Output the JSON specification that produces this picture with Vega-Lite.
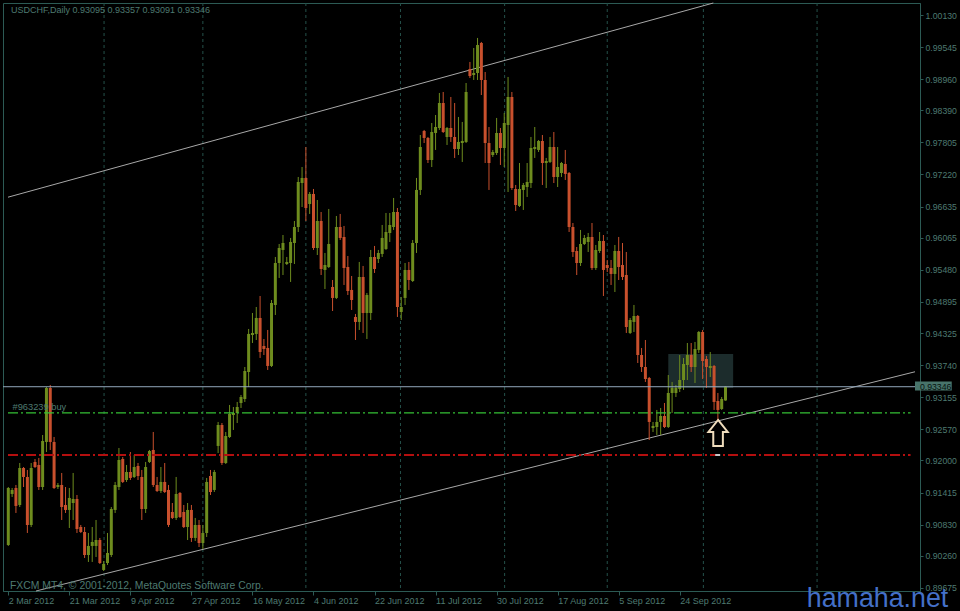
{
"$schema": "https://vega.github.io/schema/vega-lite/v6.json",
"width": 917, "height": 588,
"autosize": {"type": "none"},
"padding": {"left": 3, "top": 3, "right": 40, "bottom": 20},
"background": "#000000",
"config": {
 "view": {"stroke": "#2c5a54", "strokeWidth": 1},
 "axis": {"labelFont": "Liberation Sans", "grid": false, "domainColor": "#2c5a54", "tickColor": "#2c5a54", "labelColor": "#4e7a70", "labelFlush": false, "labelOverlap": false, "labelBound": false}
},
"datasets": {
 "bars": [
{"i":0,"o":0.90458,"h":0.91516,"l":0.90440,"c":0.91498},
{"i":1,"o":0.91389,"h":0.91498,"l":0.91334,"c":0.91461},
{"i":2,"o":0.91498,"h":0.91553,"l":0.91042,"c":0.91170},
{"i":3,"o":0.91188,"h":0.91954,"l":0.91151,"c":0.91863},
{"i":4,"o":0.91863,"h":0.91881,"l":0.91516,"c":0.91699},
{"i":5,"o":0.91699,"h":0.91827,"l":0.90677,"c":0.90823},
{"i":6,"o":0.90823,"h":0.91954,"l":0.90786,"c":0.91863},
{"i":7,"o":0.91973,"h":0.92027,"l":0.91863,"c":0.91881},
{"i":8,"o":0.91918,"h":0.92046,"l":0.91462,"c":0.91516},
{"i":9,"o":0.91516,"h":0.92465,"l":0.91462,"c":0.92356},
{"i":10,"o":0.92338,"h":0.93341,"l":0.92155,"c":0.93323},
{"i":11,"o":0.93323,"h":0.93378,"l":0.92192,"c":0.92338},
{"i":12,"o":0.92338,"h":0.92429,"l":0.91480,"c":0.91498},
{"i":13,"o":0.91516,"h":0.91589,"l":0.91480,"c":0.91553},
{"i":14,"o":0.91553,"h":0.91772,"l":0.90914,"c":0.91151},
{"i":15,"o":0.91188,"h":0.91516,"l":0.91042,"c":0.91097},
{"i":16,"o":0.91097,"h":0.91498,"l":0.90768,"c":0.91316},
{"i":17,"o":0.91224,"h":0.91772,"l":0.90914,"c":0.91297},
{"i":18,"o":0.91297,"h":0.91370,"l":0.90677,"c":0.90750},
{"i":19,"o":0.90786,"h":0.90823,"l":0.90677,"c":0.90695},
{"i":20,"o":0.90695,"h":0.90786,"l":0.90221,"c":0.90275},
{"i":21,"o":0.90275,"h":0.90677,"l":0.90148,"c":0.90440},
{"i":22,"o":0.90440,"h":0.90786,"l":0.90148,"c":0.90513},
{"i":23,"o":0.90440,"h":0.90914,"l":0.90239,"c":0.90549},
{"i":24,"o":0.90549,"h":0.90586,"l":0.90111,"c":0.90129},
{"i":25,"o":0.90002,"h":0.90166,"l":0.89983,"c":0.90111},
{"i":26,"o":0.90129,"h":0.90677,"l":0.90093,"c":0.90312},
{"i":27,"o":0.90275,"h":0.91151,"l":0.90239,"c":0.91115},
{"i":28,"o":0.91097,"h":0.91608,"l":0.91042,"c":0.91553},
{"i":29,"o":0.91516,"h":0.92228,"l":0.91462,"c":0.92009},
{"i":30,"o":0.92027,"h":0.92064,"l":0.91589,"c":0.91608},
{"i":31,"o":0.91644,"h":0.91918,"l":0.91608,"c":0.91790},
{"i":32,"o":0.91790,"h":0.92155,"l":0.91644,"c":0.91681},
{"i":33,"o":0.91699,"h":0.92100,"l":0.91681,"c":0.91881},
{"i":34,"o":0.91900,"h":0.91954,"l":0.91644,"c":0.91717},
{"i":35,"o":0.91699,"h":0.91827,"l":0.90914,"c":0.91115},
{"i":36,"o":0.91115,"h":0.91973,"l":0.91042,"c":0.91881},
{"i":37,"o":0.91973,"h":0.92192,"l":0.91954,"c":0.92173},
{"i":38,"o":0.92192,"h":0.92520,"l":0.91516,"c":0.91553},
{"i":39,"o":0.91553,"h":0.91699,"l":0.91425,"c":0.91443},
{"i":40,"o":0.91443,"h":0.91881,"l":0.91407,"c":0.91608},
{"i":41,"o":0.91608,"h":0.91954,"l":0.91407,"c":0.91425},
{"i":42,"o":0.91462,"h":0.91553,"l":0.90786,"c":0.90823},
{"i":43,"o":0.91060,"h":0.91224,"l":0.90932,"c":0.90951},
{"i":44,"o":0.90951,"h":0.91699,"l":0.90914,"c":0.91389},
{"i":45,"o":0.91407,"h":0.91425,"l":0.90951,"c":0.90969},
{"i":46,"o":0.91060,"h":0.91188,"l":0.90768,"c":0.90786},
{"i":47,"o":0.90786,"h":0.91224,"l":0.90549,"c":0.91097},
{"i":48,"o":0.91097,"h":0.91188,"l":0.90513,"c":0.90586},
{"i":49,"o":0.90586,"h":0.90951,"l":0.90531,"c":0.90823},
{"i":50,"o":0.90823,"h":0.90914,"l":0.90421,"c":0.90494},
{"i":51,"o":0.90494,"h":0.90823,"l":0.90385,"c":0.90677},
{"i":52,"o":0.90677,"h":0.91681,"l":0.90604,"c":0.91608},
{"i":53,"o":0.91717,"h":0.91827,"l":0.91370,"c":0.91425},
{"i":54,"o":0.91462,"h":0.91827,"l":0.91425,"c":0.91790},
{"i":55,"o":0.92265,"h":0.92703,"l":0.92137,"c":0.92648},
{"i":56,"o":0.92648,"h":0.92684,"l":0.91918,"c":0.91954},
{"i":57,"o":0.91954,"h":0.92520,"l":0.91936,"c":0.92447},
{"i":58,"o":0.92429,"h":0.93013,"l":0.92411,"c":0.92849},
{"i":59,"o":0.92830,"h":0.92976,"l":0.92557,"c":0.92867},
{"i":60,"o":0.92867,"h":0.93068,"l":0.92684,"c":0.92976},
{"i":61,"o":0.93049,"h":0.93195,"l":0.92958,"c":0.93159},
{"i":62,"o":0.93122,"h":0.93706,"l":0.93068,"c":0.93633},
{"i":63,"o":0.93615,"h":0.94400,"l":0.93341,"c":0.94309},
{"i":64,"o":0.94290,"h":0.94692,"l":0.94144,"c":0.94327},
{"i":65,"o":0.94309,"h":0.94801,"l":0.94199,"c":0.94601},
{"i":66,"o":0.94601,"h":0.95002,"l":0.93871,"c":0.93980},
{"i":67,"o":0.94090,"h":0.94217,"l":0.93925,"c":0.94035},
{"i":68,"o":0.94053,"h":0.94382,"l":0.93652,"c":0.93725},
{"i":69,"o":0.93725,"h":0.94929,"l":0.93706,"c":0.94874},
{"i":70,"o":0.94838,"h":0.95714,"l":0.94655,"c":0.95604},
{"i":71,"o":0.95604,"h":0.95951,"l":0.95331,"c":0.95878},
{"i":72,"o":0.95842,"h":0.96115,"l":0.95385,"c":0.95969},
{"i":73,"o":0.95586,"h":0.95714,"l":0.95568,"c":0.95623},
{"i":74,"o":0.95604,"h":0.96061,"l":0.95258,"c":0.95988},
{"i":75,"o":0.95969,"h":0.96371,"l":0.95586,"c":0.96261},
{"i":76,"o":0.96261,"h":0.97174,"l":0.96170,"c":0.97083},
{"i":77,"o":0.97064,"h":0.97356,"l":0.96626,"c":0.97156},
{"i":78,"o":0.97156,"h":0.97721,"l":0.96371,"c":0.96608},
{"i":79,"o":0.96681,"h":0.96900,"l":0.96499,"c":0.96864},
{"i":80,"o":0.96864,"h":0.96955,"l":0.95842,"c":0.95878},
{"i":81,"o":0.95878,"h":0.96754,"l":0.95750,"c":0.96371},
{"i":82,"o":0.96371,"h":0.96535,"l":0.95385,"c":0.95495},
{"i":83,"o":0.95477,"h":0.95787,"l":0.95130,"c":0.95568},
{"i":84,"o":0.95531,"h":0.96590,"l":0.95513,"c":0.95951},
{"i":85,"o":0.95166,"h":0.95294,"l":0.94728,"c":0.94966},
{"i":86,"o":0.94966,"h":0.96462,"l":0.94947,"c":0.96261},
{"i":87,"o":0.96261,"h":0.96499,"l":0.96024,"c":0.96061},
{"i":88,"o":0.96079,"h":0.96280,"l":0.95203,"c":0.95513},
{"i":89,"o":0.95531,"h":0.95732,"l":0.95020,"c":0.95093},
{"i":90,"o":0.95112,"h":0.95367,"l":0.94747,"c":0.94929},
{"i":91,"o":0.94619,"h":0.94674,"l":0.94199,"c":0.94528},
{"i":92,"o":0.94528,"h":0.95623,"l":0.94382,"c":0.95349},
{"i":93,"o":0.95349,"h":0.95550,"l":0.94327,"c":0.94692},
{"i":94,"o":0.94692,"h":0.95057,"l":0.94217,"c":0.95020},
{"i":95,"o":0.94692,"h":0.95842,"l":0.94564,"c":0.95714},
{"i":96,"o":0.95714,"h":0.95915,"l":0.95422,"c":0.95495},
{"i":97,"o":0.95677,"h":0.95842,"l":0.95604,"c":0.95787},
{"i":98,"o":0.95769,"h":0.96298,"l":0.95714,"c":0.96061},
{"i":99,"o":0.95860,"h":0.96517,"l":0.95842,"c":0.96170},
{"i":100,"o":0.96152,"h":0.96517,"l":0.95988,"c":0.96298},
{"i":101,"o":0.96261,"h":0.96791,"l":0.96207,"c":0.96535},
{"i":102,"o":0.96535,"h":0.96608,"l":0.94619,"c":0.94801},
{"i":103,"o":0.94710,"h":0.94984,"l":0.94564,"c":0.94801},
{"i":104,"o":0.94966,"h":0.95604,"l":0.94838,"c":0.95477},
{"i":105,"o":0.95477,"h":0.95623,"l":0.95112,"c":0.95294},
{"i":106,"o":0.95276,"h":0.96024,"l":0.95258,"c":0.95969},
{"i":107,"o":0.95969,"h":0.97156,"l":0.95787,"c":0.96937},
{"i":108,"o":0.96937,"h":0.97940,"l":0.96845,"c":0.97721},
{"i":109,"o":0.98013,"h":0.98032,"l":0.97794,"c":0.97886},
{"i":110,"o":0.97886,"h":0.97904,"l":0.97429,"c":0.97484},
{"i":111,"o":0.97484,"h":0.98159,"l":0.97356,"c":0.97995},
{"i":112,"o":0.97977,"h":0.98305,"l":0.97667,"c":0.98086},
{"i":113,"o":0.98068,"h":0.98707,"l":0.98032,"c":0.98524},
{"i":114,"o":0.98524,"h":0.98725,"l":0.97977,"c":0.97995},
{"i":115,"o":0.97904,"h":0.98086,"l":0.97758,"c":0.98068},
{"i":116,"o":0.98068,"h":0.98634,"l":0.97813,"c":0.97904},
{"i":117,"o":0.97904,"h":0.98524,"l":0.97521,"c":0.97685},
{"i":118,"o":0.97685,"h":0.98269,"l":0.97575,"c":0.97813},
{"i":119,"o":0.97794,"h":0.98178,"l":0.97448,"c":0.97831},
{"i":120,"o":0.97813,"h":0.98889,"l":0.97794,"c":0.98725},
{"i":121,"o":0.99145,"h":0.99273,"l":0.98981,"c":0.99017},
{"i":122,"o":0.99035,"h":0.99528,"l":0.98944,"c":0.99072},
{"i":123,"o":0.99072,"h":0.99711,"l":0.98944,"c":0.99583},
{"i":124,"o":0.99619,"h":0.99638,"l":0.98670,"c":0.98944},
{"i":125,"o":0.98944,"h":0.99090,"l":0.97429,"c":0.97794},
{"i":126,"o":0.97794,"h":0.98086,"l":0.96937,"c":0.97429},
{"i":127,"o":0.97575,"h":0.97667,"l":0.97539,"c":0.97630},
{"i":128,"o":0.97612,"h":0.98251,"l":0.97575,"c":0.97977},
{"i":129,"o":0.97977,"h":0.98068,"l":0.97393,"c":0.97703},
{"i":130,"o":0.97703,"h":0.98342,"l":0.97356,"c":0.98159},
{"i":131,"o":0.98123,"h":0.98999,"l":0.96900,"c":0.98634},
{"i":132,"o":0.98634,"h":0.98725,"l":0.96937,"c":0.96973},
{"i":133,"o":0.96955,"h":0.97028,"l":0.96553,"c":0.96663},
{"i":134,"o":0.96645,"h":0.97429,"l":0.96626,"c":0.96955},
{"i":135,"o":0.96937,"h":0.97064,"l":0.96572,"c":0.97028},
{"i":136,"o":0.96991,"h":0.97429,"l":0.96809,"c":0.97083},
{"i":137,"o":0.97064,"h":0.97904,"l":0.96973,"c":0.97703},
{"i":138,"o":0.97685,"h":0.98086,"l":0.97521,"c":0.97721},
{"i":139,"o":0.97667,"h":0.97849,"l":0.97630,"c":0.97831},
{"i":140,"o":0.97831,"h":0.97940,"l":0.97028,"c":0.97429},
{"i":141,"o":0.97429,"h":0.97521,"l":0.96973,"c":0.97466},
{"i":142,"o":0.97448,"h":0.97904,"l":0.97429,"c":0.97721},
{"i":143,"o":0.97721,"h":0.97995,"l":0.97064,"c":0.97174},
{"i":144,"o":0.97174,"h":0.97721,"l":0.96991,"c":0.97356},
{"i":145,"o":0.97247,"h":0.97448,"l":0.97174,"c":0.97429},
{"i":146,"o":0.97411,"h":0.97667,"l":0.97119,"c":0.97229},
{"i":147,"o":0.97247,"h":0.97265,"l":0.96170,"c":0.96261},
{"i":148,"o":0.96261,"h":0.96334,"l":0.95714,"c":0.95805},
{"i":149,"o":0.95823,"h":0.95896,"l":0.95385,"c":0.95604},
{"i":150,"o":0.95604,"h":0.96207,"l":0.95550,"c":0.95951},
{"i":151,"o":0.95951,"h":0.96115,"l":0.95933,"c":0.96061},
{"i":152,"o":0.95988,"h":0.96152,"l":0.95805,"c":0.96079},
{"i":153,"o":0.96079,"h":0.96334,"l":0.95477,"c":0.95513},
{"i":154,"o":0.95513,"h":0.95933,"l":0.95477,"c":0.95842},
{"i":155,"o":0.95823,"h":0.96170,"l":0.95787,"c":0.96006},
{"i":156,"o":0.96006,"h":0.96115,"l":0.95002,"c":0.95477},
{"i":157,"o":0.95568,"h":0.95659,"l":0.95440,"c":0.95513},
{"i":158,"o":0.95513,"h":0.95659,"l":0.95203,"c":0.95404},
{"i":159,"o":0.95404,"h":0.95933,"l":0.95075,"c":0.95823},
{"i":160,"o":0.95823,"h":0.96079,"l":0.95294,"c":0.95531},
{"i":161,"o":0.95568,"h":0.95969,"l":0.95294,"c":0.95349},
{"i":162,"o":0.95385,"h":0.95805,"l":0.94327,"c":0.94436},
{"i":163,"o":0.94327,"h":0.94601,"l":0.94309,"c":0.94564},
{"i":164,"o":0.94528,"h":0.94838,"l":0.94345,"c":0.94637},
{"i":165,"o":0.94637,"h":0.94655,"l":0.93779,"c":0.93925},
{"i":166,"o":0.93925,"h":0.94053,"l":0.93615,"c":0.93706},
{"i":167,"o":0.93706,"h":0.94199,"l":0.93433,"c":0.93487},
{"i":168,"o":0.93506,"h":0.93524,"l":0.92374,"c":0.92703},
{"i":169,"o":0.92593,"h":0.92703,"l":0.92520,"c":0.92630},
{"i":170,"o":0.92611,"h":0.92922,"l":0.92465,"c":0.92703},
{"i":171,"o":0.92703,"h":0.92958,"l":0.92465,"c":0.92812},
{"i":172,"o":0.92812,"h":0.93049,"l":0.92593,"c":0.92611},
{"i":173,"o":0.92611,"h":0.93560,"l":0.92593,"c":0.93232},
{"i":174,"o":0.93232,"h":0.93433,"l":0.92867,"c":0.93323},
{"i":175,"o":0.93232,"h":0.93378,"l":0.93159,"c":0.93323},
{"i":176,"o":0.93305,"h":0.93925,"l":0.93250,"c":0.93469},
{"i":177,"o":0.93469,"h":0.93871,"l":0.93287,"c":0.93761},
{"i":178,"o":0.93743,"h":0.94144,"l":0.93469,"c":0.93925},
{"i":179,"o":0.93925,"h":0.94144,"l":0.93615,"c":0.93706},
{"i":180,"o":0.93706,"h":0.94163,"l":0.93414,"c":0.94035},
{"i":181,"o":0.94017,"h":0.94363,"l":0.93962,"c":0.94345},
{"i":182,"o":0.94345,"h":0.94382,"l":0.93487,"c":0.93816},
{"i":183,"o":0.93852,"h":0.93907,"l":0.93323,"c":0.93706},
{"i":184,"o":0.93688,"h":0.93980,"l":0.93524,"c":0.93725},
{"i":185,"o":0.93725,"h":0.93743,"l":0.92922,"c":0.93068},
{"i":186,"o":0.93086,"h":0.93232,"l":0.92703,"c":0.92922},
{"i":187,"o":0.92940,"h":0.93159,"l":0.92922,"c":0.93122},
{"i":188,"o":0.93095,"h":0.93357,"l":0.93091,"c":0.93346}
 ],
 "grid": [{"i":25.1},{"i":51},{"i":78},{"i":102.8},{"i":130.1},{"i":157},{"i":182.2},{"i":212}],
 "channel": [
  {"line":"upper","i":-0.078,"p":0.96805},{"line":"upper","i":184.8,"p":1.00349},
  {"line":"lower","i":7.26,"p":0.89618},{"line":"lower","i":237.67,"p":0.93619}
 ]
},
"layer": [
 {"data": {"values": [{}]}, "mark": {"type": "rect", "color": "#1c2c2c"},
  "encoding": {
   "x": {"datum": 173, "type": "quantitative", "scale": {"domain": [-0.078, 237.67], "nice": false, "zero": false},
    "axis": {"title": null, "orient": "bottom", "values": [0,16,32,48,64,80,96,112,128,144,160,176],
     "labelExpr": "['2 Mar 2012','21 Mar 2012','9 Apr 2012','27 Apr 2012','16 May 2012','4 Jun 2012','22 Jun 2012','11 Jul 2012','30 Jul 2012','17 Aug 2012','5 Sep 2012','24 Sep 2012'][round(datum.value/16)]",
     "labelAlign": "left", "labelBaseline": "top", "tickSize": 4, "labelPadding": 1, "labelFontSize": 9, "labelOverlap": false, "labelSeparation": 0}},
   "x2": {"datum": 190},
   "y": {"datum": 0.93943, "type": "quantitative", "scale": {"domain": [0.89618, 1.00349], "nice": false, "zero": false},
    "axis": {"title": null, "orient": "right", "values": [1.0013,0.99545,0.9896,0.9839,0.97805,0.9722,0.96635,0.96065,0.9548,0.94895,0.94325,0.9374,0.93155,0.9257,0.92,0.91415,0.9083,0.9026,0.89675],
     "format": ".5f", "labelAlign": "left", "labelBaseline": "middle", "tickSize": 3, "labelPadding": 2, "labelFontSize": 8.7, "labelOverlap": false, "labelSeparation": 0, "tickCount": 19}},
   "y2": {"datum": 0.93323}}},
 {"data": {"name": "grid"}, "mark": {"type": "rule", "color": "#24504a", "strokeWidth": 1, "strokeDash": [3, 3]},
  "encoding": {"x": {"field": "i", "type": "quantitative"}}},
 {"data": {"name": "channel"}, "mark": {"type": "line", "color": "#a8a8a8", "strokeWidth": 1},
  "encoding": {
   "x": {"field": "i", "type": "quantitative"},
   "y": {"field": "p", "type": "quantitative"},
   "detail": {"field": "line", "type": "nominal"}}},
 {"data": {"name": "bars"}, "mark": {"type": "rule", "strokeWidth": 1},
  "encoding": {
   "x": {"field": "i", "type": "quantitative"},
   "y": {"field": "h", "type": "quantitative"},
   "y2": {"field": "l"},
   "color": {"condition": {"test": "datum.c >= datum.o", "value": "#6e8c1e"}, "value": "#c8502d"}}},
 {"data": {"name": "bars"}, "mark": {"type": "bar", "width": 3},
  "encoding": {
   "x": {"field": "i", "type": "quantitative"},
   "y": {"field": "o", "type": "quantitative"},
   "y2": {"field": "c"},
   "color": {"condition": {"test": "datum.c >= datum.o", "value": "#6e8c1e"}, "value": "#c8502d"}}},
 {"data": {"values": [{}]}, "mark": {"type": "rule", "color": "#93a7bb", "strokeWidth": 1},
  "encoding": {"y": {"datum": 0.93346, "type": "quantitative"}}},
 {"data": {"values": [{}]}, "mark": {"type": "rule", "color": "#35c035", "strokeWidth": 1.3, "strokeDash": [10, 3, 2, 3]},
  "encoding": {
   "x": {"datum": -0.078, "type": "quantitative"},
   "x2": {"datum": 236.5},
   "y": {"datum": 0.92867, "type": "quantitative"}}},
 {"data": {"values": [{}]}, "mark": {"type": "rule", "color": "#b40f0f", "strokeWidth": 2, "strokeDash": [10, 3, 2, 3]},
  "encoding": {
   "x": {"datum": -0.078, "type": "quantitative"},
   "x2": {"datum": 236.5},
   "y": {"datum": 0.921, "type": "quantitative"}}},
 {"data": {"values": [{}]}, "mark": {"type": "rule", "color": "#c8c8c8", "strokeWidth": 2},
  "encoding": {
   "x": {"datum": 185.3, "type": "quantitative"},
   "x2": {"datum": 186.6},
   "y": {"datum": 0.921, "type": "quantitative"}}},
 {"data": {"values": [{}]}, "mark": {"type": "point", "shape": "M0,-1L0.74,-0.08L0.37,-0.08L0.37,1L-0.37,1L-0.37,-0.08L-0.74,-0.08Z", "size": 676, "filled": true, "fill": "#000000", "stroke": "#efdcbc", "strokeWidth": 2, "opacity": 1, "fillOpacity": 1, "strokeOpacity": 1},
  "encoding": {
   "x": {"datum": 186.05, "type": "quantitative"},
   "y": {"datum": 0.92502, "type": "quantitative"}}},
 {"data": {"values": [{}]}, "mark": {"type": "text", "text": "USDCHF,Daily  0.93095 0.93357 0.93091 0.93346", "align": "left", "baseline": "middle", "font": "Liberation Sans", "fontSize": 9, "color": "#4e7a70"},
  "encoding": {
   "x": {"datum": 0.7, "type": "quantitative"},
   "y": {"datum": 1.00222, "type": "quantitative"}}},
 {"data": {"values": [{}]}, "mark": {"type": "text", "text": "#963239 buy", "align": "left", "baseline": "middle", "font": "Liberation Sans", "fontSize": 9.3, "color": "#4e7a70"},
  "encoding": {
   "x": {"datum": 1.1, "type": "quantitative"},
   "y": {"datum": 0.92967, "type": "quantitative"}}},
 {"data": {"values": [{}]}, "mark": {"type": "text", "text": "FXCM MT4, © 2001-2012, MetaQuotes Software Corp.", "align": "left", "baseline": "middle", "font": "Liberation Sans", "fontSize": 10.4, "color": "#4e7a70"},
  "encoding": {
   "x": {"datum": 0.44, "type": "quantitative"},
   "y": {"datum": 0.8971, "type": "quantitative"}}},
 {"data": {"values": [{}]}, "mark": {"type": "rect", "color": "#48746b"},
  "encoding": {
   "x": {"datum": 237.67, "type": "quantitative"},
   "x2": {"datum": 247.3},
   "y": {"datum": 0.93442, "type": "quantitative"},
   "y2": {"datum": 0.93277}}},
 {"data": {"values": [{}]}, "mark": {"type": "text", "text": "0.93346", "align": "left", "baseline": "middle", "font": "Liberation Sans", "fontSize": 8.7, "color": "#06120f"},
  "encoding": {
   "x": {"datum": 238.96, "type": "quantitative"},
   "y": {"datum": 0.93346, "type": "quantitative"}}},
 {"data": {"values": [{}]}, "mark": {"type": "text", "text": "hamaha.net", "align": "right", "baseline": "alphabetic", "font": "Liberation Sans", "fontSize": 26.8, "color": "#4470c8"},
  "encoding": {
   "x": {"datum": 246.4, "type": "quantitative"},
   "y": {"datum": 0.89335, "type": "quantitative"}}}
]
}
